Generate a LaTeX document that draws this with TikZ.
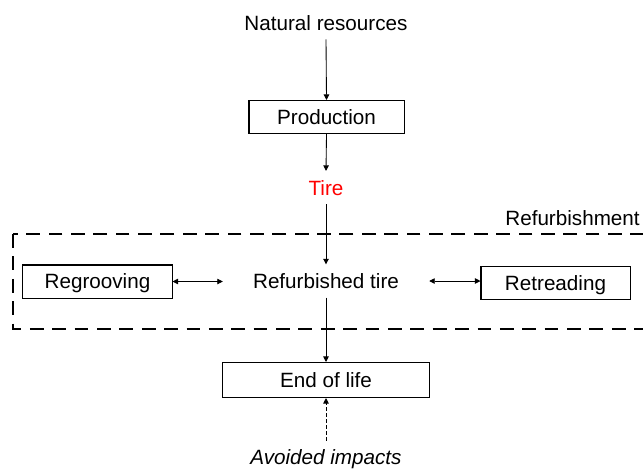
\documentclass[tikz,border=0pt]{standalone}
\usepackage{fontspec}
\setmainfont{Liberation Sans}
\usetikzlibrary{arrows.meta,positioning}

\begin{document}
\begin{tikzpicture}[
  x=0.02042cm,
  y=-0.02042cm,
  flowtext/.style={
    inner xsep=0pt,
    inner ysep=5.2pt,
    text height=8.6pt,
    text depth=0pt,
    font=\fontsize{12}{14}\selectfont
  },
  stage/.style={
    draw,
    line width=0.6pt,
    inner sep=0pt,
    minimum height=0.674cm,
    text height=8.6pt,
    text depth=0pt,
    font=\fontsize{12}{14}\selectfont
  },
  arrow/.style={-{Triangle[length=3.2pt,width=3.2pt]},line width=0.5pt},
  twoway/.style={{Triangle[length=3.2pt,width=3.2pt]}-{Triangle[length=3.2pt,width=3.2pt]},line width=0.5pt},
  frame/.style={line width=1.2pt,dash pattern=on 8pt off 5pt}
]
  \useasboundingbox (0,0) rectangle (643,470);
  \clip (0,0) rectangle (643,470);

  \node[flowtext] (nat) at (326,22.6) {Natural resources};
  \node[stage,minimum width=3.165cm] (prod) at (326.5,117) {Production};
  \node[flowtext,text=red] (tire) at (326,187.6) {Tire};
  \node[flowtext,inner xsep=17.4pt] (refurb) at (326,281) {Refurbished tire};
  \node[stage,minimum width=3.043cm] (regroove) at (97.5,281.5) {Regrooving};
  \node[stage,minimum width=3.043cm] (retread) at (555.5,283) {Retreading};
  \node[stage,minimum width=4.207cm,minimum height=0.715cm] (eol) at (326,380) {End of life};
  \node[flowtext,font=\fontsize{12}{14}\selectfont\itshape] (avoided) at (326,457.5) {Avoided impacts};

  % refurbishment group
  \draw[frame] (13,234) rectangle (670,329);
  \node[flowtext,inner ysep=0pt,anchor=west] (refurblabel) at (505,217.6) {Refurbishment};

  \draw[arrow] (nat.south) -- (prod.north);
  \draw[arrow] (prod.south) -- (tire.north);
  \draw[arrow] (tire.south) -- (refurb.north);
  \draw[arrow] (refurb.south) -- (eol.north);
  \draw[twoway] (regroove.east) -- (regroove.east -| refurb.west);
  \draw[twoway] (refurb.east) -- (refurb.east -| retread.west);
  \draw[arrow,dash pattern=on 2pt off 1.5pt] (avoided.north) -- (eol.south);
\end{tikzpicture}
\end{document}
